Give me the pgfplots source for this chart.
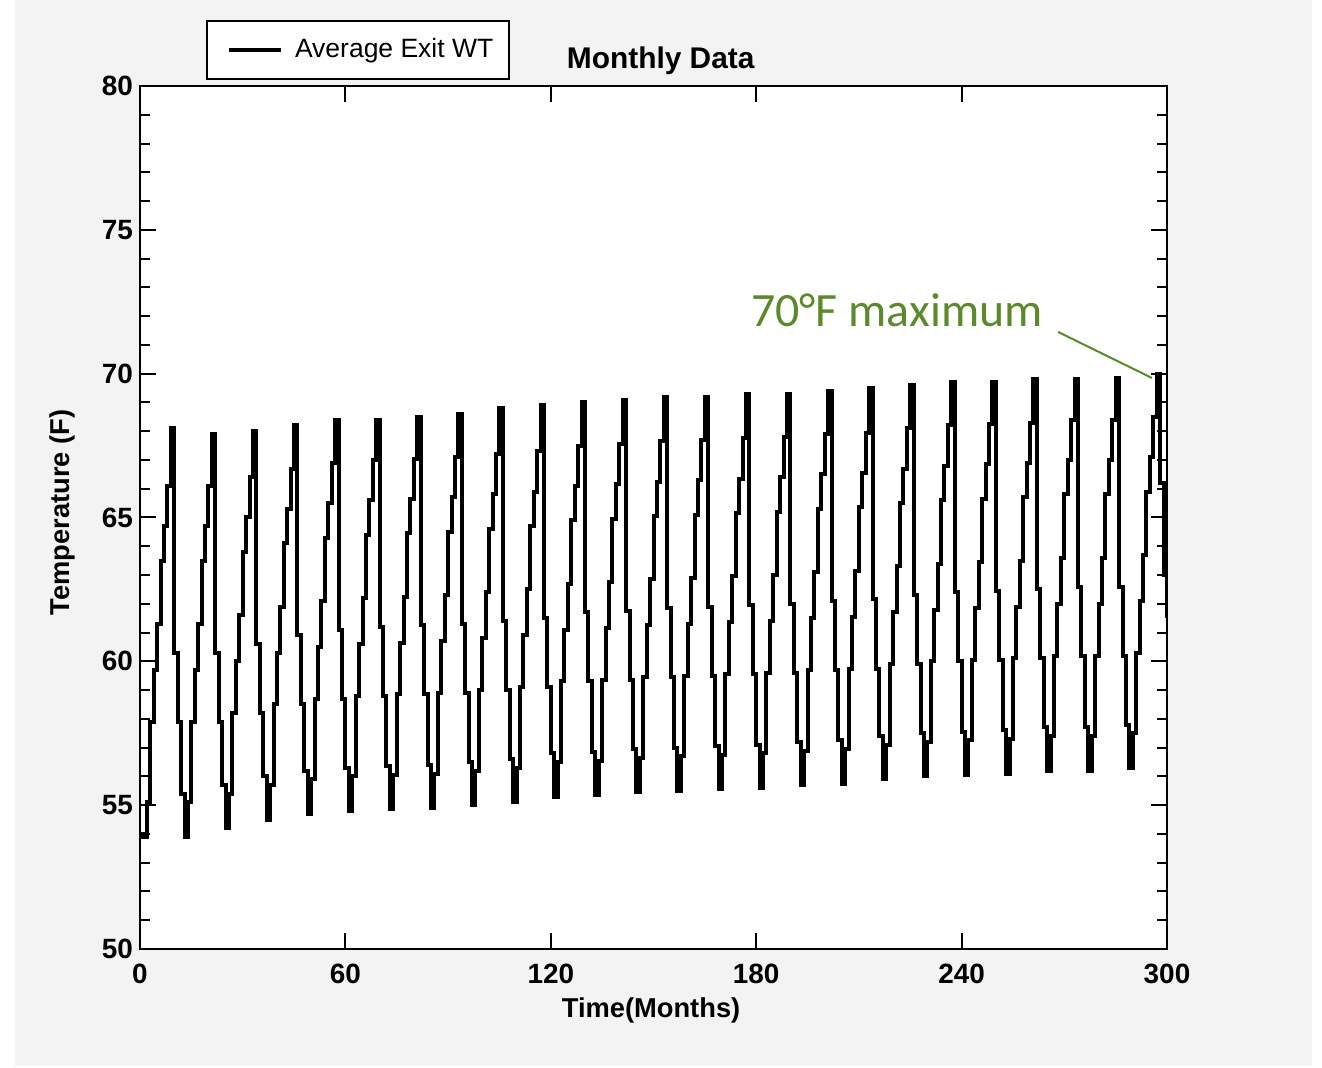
\documentclass[border=0pt]{standalone}
\usepackage{fontspec}
\setmainfont{Liberation Sans}
\newfontfamily\calib{Carlito}
\usepackage{pgfplots}
\pgfplotsset{compat=1.18}
\definecolor{bggray}{RGB}{243,243,243}
\definecolor{annogreen}{RGB}{90,138,42}

\begin{document}
\begin{tikzpicture}
\useasboundingbox (0,0) rectangle (661bp,534bp);
\fill[white] (0,0) rectangle (661bp,534bp);
\fill[bggray] (7.5bp,1bp) rectangle (656bp,534bp);
\begin{axis}[
    at={(70bp,59.5bp)}, anchor=south west,
    scale only axis, width=513.5bp, height=431.5bp,
    xmin=0, xmax=300, ymin=50, ymax=80,
    xtick={0,60,...,300}, ytick={50,55,...,80},
    minor y tick num=4,
    tick align=inside,
    major tick length=8bp, minor tick length=5bp,
    axis line style={line width=1bp},
    every tick/.style={black, line width=1bp},
    axis background/.style={fill=white},
    /pgf/number format/assume math mode=true,
    every tick label/.append style={font=\fontsize{14}{16}\selectfont\bfseries},
    xticklabel style={yshift=-4bp},
    xlabel={Time(Months)}, ylabel={Temperature (F)},
    label style={font=\fontsize{13.7}{16}\selectfont\bfseries},
    xlabel style={at={(axis description cs:0.4976,-0.0707)}, anchor=center},
    ylabel style={at={(axis description cs:-0.0759,0.506)}, anchor=center},
    title={Monthly Data},
    title style={font=\fontsize{15}{18}\selectfont\bfseries,
        at={(axis description cs:0.507,1.015)}, anchor=center},
    legend style={at={(axis description cs:0.0643,1.007)}, anchor=south west,
        draw=black, line width=1bp, fill=white,
        font=\fontsize{13.3}{16}\selectfont,
        inner xsep=6bp, inner ysep=7bp},
    legend image code/.code={\draw[line width=2bp] (4bp,0bp) -- (30bp,0bp);
        \path (0bp,0bp) (34bp,0bp);},
]
% monthly average exit water temperature, one year per row
\addplot[const plot, black, line width=2bp] table[x expr=\coordindex, y index=0, header=false, row sep=\\] {
54.0\\ 53.9\\ 55.1\\ 57.9\\ 59.7\\ 61.3\\ 63.5\\ 64.7\\ 66.1\\ 68.1\\ 60.3\\ 57.9\\
55.4\\ 53.9\\ 55.1\\ 57.9\\ 59.7\\ 61.3\\ 63.5\\ 64.7\\ 66.1\\ 67.9\\ 60.3\\ 57.9\\
55.7\\ 54.2\\ 55.4\\ 58.2\\ 60.0\\ 61.6\\ 63.8\\ 65.0\\ 66.4\\ 68.0\\ 60.6\\ 58.2\\
56.0\\ 54.5\\ 55.7\\ 58.5\\ 60.3\\ 61.9\\ 64.1\\ 65.3\\ 66.7\\ 68.2\\ 60.9\\ 58.5\\
56.2\\ 54.7\\ 55.9\\ 58.7\\ 60.5\\ 62.1\\ 64.3\\ 65.5\\ 66.9\\ 68.4\\ 61.1\\ 58.7\\
56.3\\ 54.8\\ 56.0\\ 58.8\\ 60.6\\ 62.2\\ 64.4\\ 65.6\\ 67.0\\ 68.4\\ 61.2\\ 58.8\\
56.35\\ 54.85\\ 56.05\\ 58.85\\ 60.65\\ 62.25\\ 64.45\\ 65.65\\ 67.05\\ 68.5\\ 61.25\\ 58.85\\
56.4\\ 54.9\\ 56.1\\ 58.9\\ 60.7\\ 62.3\\ 64.5\\ 65.7\\ 67.1\\ 68.6\\ 61.3\\ 58.9\\
56.5\\ 55.0\\ 56.2\\ 59.0\\ 60.8\\ 62.4\\ 64.6\\ 65.8\\ 67.2\\ 68.8\\ 61.4\\ 59.0\\
56.6\\ 55.1\\ 56.3\\ 59.1\\ 60.9\\ 62.5\\ 64.7\\ 65.9\\ 67.3\\ 68.9\\ 61.5\\ 59.1\\
56.8\\ 55.3\\ 56.5\\ 59.3\\ 61.1\\ 62.7\\ 64.9\\ 66.1\\ 67.5\\ 69.0\\ 61.7\\ 59.3\\
56.85\\ 55.35\\ 56.55\\ 59.35\\ 61.15\\ 62.75\\ 64.95\\ 66.15\\ 67.55\\ 69.1\\ 61.75\\ 59.35\\
56.95\\ 55.45\\ 56.65\\ 59.45\\ 61.25\\ 62.85\\ 65.05\\ 66.25\\ 67.65\\ 69.2\\ 61.85\\ 59.45\\
57.0\\ 55.5\\ 56.7\\ 59.5\\ 61.3\\ 62.9\\ 65.1\\ 66.3\\ 67.7\\ 69.2\\ 61.9\\ 59.5\\
57.05\\ 55.55\\ 56.75\\ 59.55\\ 61.35\\ 62.95\\ 65.15\\ 66.35\\ 67.75\\ 69.3\\ 61.95\\ 59.55\\
57.1\\ 55.6\\ 56.8\\ 59.6\\ 61.4\\ 63.0\\ 65.2\\ 66.4\\ 67.8\\ 69.3\\ 62.0\\ 59.6\\
57.2\\ 55.7\\ 56.9\\ 59.7\\ 61.5\\ 63.1\\ 65.3\\ 66.5\\ 67.9\\ 69.4\\ 62.1\\ 59.7\\
57.25\\ 55.75\\ 56.95\\ 59.75\\ 61.55\\ 63.15\\ 65.35\\ 66.55\\ 67.95\\ 69.5\\ 62.15\\ 59.75\\
57.4\\ 55.9\\ 57.1\\ 59.9\\ 61.7\\ 63.3\\ 65.5\\ 66.7\\ 68.1\\ 69.6\\ 62.3\\ 59.9\\
57.5\\ 56.0\\ 57.2\\ 60.0\\ 61.8\\ 63.4\\ 65.6\\ 66.8\\ 68.2\\ 69.7\\ 62.4\\ 60.0\\
57.55\\ 56.05\\ 57.25\\ 60.05\\ 61.85\\ 63.45\\ 65.65\\ 66.85\\ 68.25\\ 69.7\\ 62.45\\ 60.05\\
57.6\\ 56.1\\ 57.3\\ 60.1\\ 61.9\\ 63.5\\ 65.7\\ 66.9\\ 68.3\\ 69.8\\ 62.5\\ 60.1\\
57.7\\ 56.2\\ 57.4\\ 60.2\\ 62.0\\ 63.6\\ 65.8\\ 67.0\\ 68.4\\ 69.8\\ 62.6\\ 60.2\\
57.7\\ 56.2\\ 57.4\\ 60.2\\ 62.0\\ 63.6\\ 65.8\\ 67.0\\ 68.4\\ 69.85\\ 62.6\\ 60.2\\
57.8\\ 56.3\\ 57.5\\ 60.3\\ 62.1\\ 63.7\\ 65.9\\ 67.1\\ 68.5\\ 70.0\\ 66.2\\ 63.0\\
61.5\\
};
\addlegendentry{Average Exit WT}
\node[font=\calib\fontsize{24}{28}\selectfont, text=annogreen] at (axis cs:221.1,72.2) {70°F maximum};
\draw[annogreen, line width=1bp] (axis cs:268.2,71.45) -- (axis cs:295.6,69.85);
\end{axis}
\end{tikzpicture}
\end{document}
